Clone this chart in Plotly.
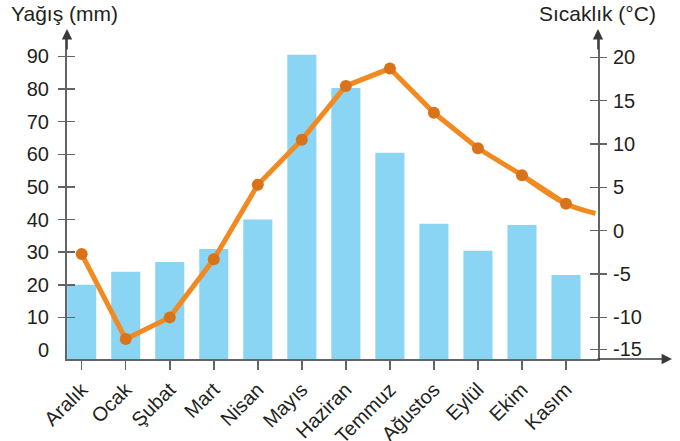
import plotly.graph_objects as go

months = ["Aralık", "Ocak", "Şubat", "Mart", "Nisan", "Mayıs", "Haziran",
          "Temmuz", "Ağustos", "Eylül", "Ekim", "Kasım"]
rain_mm = [20, 24, 27, 31, 40, 90.5, 80.3, 60.5, 38.7, 30.4, 38.3, 23]
temp_c = [-2.7, -12.5, -10.0, -3.3, 5.3, 10.5, 16.7, 18.7, 13.6, 9.5, 6.4, 3.1]
tail_x = [10, 11, 11.67]
tail_t = [6.4, 3.1, 2.0]

left_ticks = [10, 20, 30, 40, 50, 60, 70, 80, 90]
left_labels = [0] + left_ticks
right_vals = [20, 15, 10, 5, 0, -5, -10, -13.7]
right_text = ["20", "15", "10", "5", "0", "-5", "-10", "-15"]

Y_MIN, Y_MAX = -2.76, 97.2
T_MIN, T_MAX = -14.8, 22.8
X_MIN, X_MAX = -0.334, 11.727

xs = list(range(len(months)))
AX = "#646464"
TXT = "#231F20"
FONT = "Liberation Sans, Arial, sans-serif"
FS = 20

fig = go.Figure()
fig.add_trace(go.Bar(x=xs, y=[v - Y_MIN for v in rain_mm], base=Y_MIN, width=0.66,
                     marker=dict(color="#8AD4F4", line=dict(width=0)), yaxis="y"))
fig.add_trace(go.Scatter(x=tail_x, y=tail_t, mode="lines", yaxis="y2",
                         line=dict(color="#F28A22", width=5, shape="spline", smoothing=1.0)))
fig.add_trace(go.Scatter(x=xs, y=temp_c, mode="lines", yaxis="y2",
                         line=dict(color="#F28A22", width=5)))
fig.add_trace(go.Scatter(x=xs, y=temp_c, mode="markers", yaxis="y2",
                         marker=dict(color="#D9731A", size=12)))
# invisible traces to anchor tick-only overlay axes
for ya in ["y3", "y4", "y5", "y6"]:
    fig.add_trace(go.Scatter(x=[None], y=[None], yaxis=ya, showlegend=False, hoverinfo="skip"))

common = dict(showgrid=False, zeroline=False, fixedrange=True, automargin=False)
fig.update_layout(
    width=680, height=441,
    margin=dict(l=67, r=82, t=33, b=82),
    paper_bgcolor="white", plot_bgcolor="white",
    showlegend=False,
    font=dict(family=FONT, size=FS, color=TXT),
    xaxis=dict(range=[X_MIN, X_MAX], tickvals=xs, ticktext=months, tickangle=-45,
               ticks="outside", ticklen=9, tickwidth=1.5, tickcolor=AX,
               showline=True, linecolor=AX, linewidth=2,
               tickfont=dict(family=FONT, size=FS, color=TXT), **common),
    yaxis=dict(range=[Y_MIN, Y_MAX], tickvals=left_labels, ticks="", showline=True,
               linecolor=AX, linewidth=2, ticklabelstandoff=12,
               tickfont=dict(family=FONT, size=FS, color=TXT), **common),
    yaxis2=dict(range=[T_MIN, T_MAX], overlaying="y", side="right", anchor="x",
                tickvals=right_vals, ticktext=right_text, ticks="", showline=True,
                linecolor=AX, linewidth=2, ticklabelstandoff=9,
                tickfont=dict(family=FONT, size=FS, color=TXT), **common),
    yaxis3=dict(range=[Y_MIN, Y_MAX], overlaying="y", side="left", anchor="x",
                tickvals=left_ticks, ticks="outside", ticklen=8, tickwidth=1.5,
                tickcolor=AX, showticklabels=False, showline=False, **common),
    yaxis4=dict(range=[Y_MIN, Y_MAX], overlaying="y", side="left", anchor="x",
                tickvals=left_ticks, ticks="inside", ticklen=8, tickwidth=1.5,
                tickcolor=AX, showticklabels=False, showline=False, **common),
    yaxis5=dict(range=[T_MIN, T_MAX], overlaying="y", side="right", anchor="x",
                tickvals=right_vals, ticks="outside", ticklen=8, tickwidth=1.5,
                tickcolor=AX, showticklabels=False, showline=False, **common),
    yaxis6=dict(range=[T_MIN, T_MAX], overlaying="y", side="right", anchor="x",
                tickvals=right_vals, ticks="inside", ticklen=8, tickwidth=1.5,
                tickcolor=AX, showticklabels=False, showline=False, **common),
)

PW, PH = 531, 326
arrow = dict(text="", showarrow=True, arrowhead=2, arrowsize=1.3, arrowwidth=1.6,
             arrowcolor="#3a3a3a", xref="paper", yref="paper")
fig.add_annotation(x=0, y=1 + 4 / PH, ax=0, ay=22, **arrow)
fig.add_annotation(x=1, y=1 + 4 / PH, ax=0, ay=22, **arrow)
fig.add_annotation(x=(672 - 67) / PW, y=0, ax=-76, ay=0, **arrow)

fig.add_annotation(text="Yağış (mm)", xref="paper", yref="paper",
                   x=(9 - 67) / PW, y=1 + 19.5 / PH, xanchor="left", yanchor="middle",
                   showarrow=False, font=dict(family=FONT, size=21, color=TXT))
fig.add_annotation(text="Sıcaklık (°C)", xref="paper", yref="paper",
                   x=(658 - 67) / PW, y=1 + 19.5 / PH, xanchor="right", yanchor="middle",
                   showarrow=False, font=dict(family=FONT, size=21, color=TXT))

fig.write_html("out.html", config={"displayModeBar": False, "staticPlot": True},
               post_script="document.body.style.margin='0';")
